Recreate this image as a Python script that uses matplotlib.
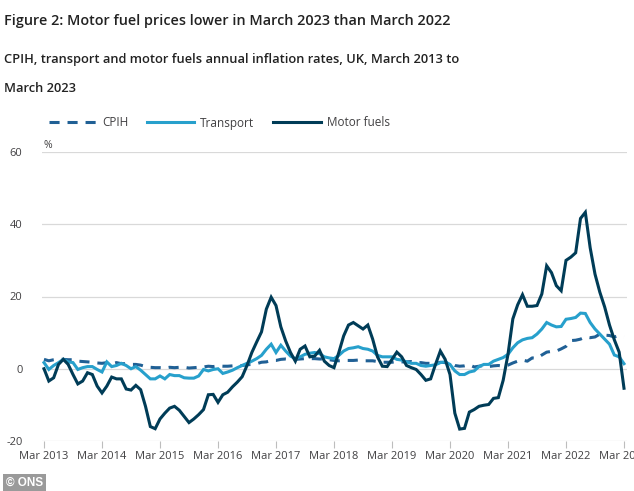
import matplotlib
matplotlib.use("Agg")
import matplotlib.pyplot as plt
import numpy as np
import pandas as pd

# ---- data (annual inflation rate, %, monthly Mar 2013 - Mar 2023) ----
cpih = [2.6, 2.2, 2.5, 2.7, 2.6, 2.5, 2.5, 2.1, 2.0, 1.9,
        1.8, 1.6, 1.5, 1.7, 1.4, 1.7, 1.4, 1.4, 1.2, 1.2, 1.0, 0.6,
        0.4, 0.3, 0.3, 0.2, 0.4, 0.3, 0.4, 0.4, 0.2, 0.3, 0.4, 0.5,
        0.7, 0.6, 0.8, 0.7, 0.7, 0.8, 0.9, 0.9, 1.1, 1.2, 1.4, 1.8,
        1.9, 2.3, 2.3, 2.6, 2.7, 2.6, 2.6, 2.7, 2.8, 2.8, 2.8, 2.7,
        2.7, 2.5, 2.3, 2.2, 2.3, 2.3, 2.3, 2.4, 2.2, 2.2, 2.2, 2.0,
        1.8, 1.8, 1.8, 2.0, 1.9, 1.9, 2.0, 1.7, 1.7, 1.5, 1.5, 1.4,
        1.8, 1.7, 1.5, 0.9, 0.7, 0.8, 1.1, 0.5, 0.7, 0.9, 0.6, 0.8,
        0.9, 0.7, 1.0, 1.6, 2.1, 2.4, 2.1, 3.0, 2.9, 3.8, 4.6, 4.8,
        4.9, 5.5, 6.2, 7.8, 7.9, 8.2, 8.8, 8.6, 8.8, 9.6, 9.3, 9.2,
        8.8, 9.2, 8.9]

transport = [1.7, -0.2, 0.9, 1.7, 2.6, 1.9, 1.7, -0.2, 0.3, 0.6,
             0.6, -0.2, -0.9, 1.9, 0.6, 0.9, 1.5, 0.9, 0.0, 0.6, -0.4, -1.6,
             -2.8, -2.8, -2.0, -2.8, -1.6, -1.9, -1.9, -2.5, -2.6, -2.6, -2.0, -0.2,
             -0.6, -0.2, 0.0, -1.3, -0.9, -0.4, 0.3, 0.9, 1.5, 2.1, 2.8, 3.7,
             5.4, 6.8, 4.5, 6.5, 4.9, 3.5, 2.8, 3.3, 4.0, 4.3, 4.5, 4.2,
             3.3, 3.0, 2.8, 3.7, 4.9, 5.6, 5.8, 6.1, 5.6, 5.4, 4.9, 3.7,
             3.3, 3.3, 3.3, 2.6, 2.4, 1.9, 1.5, 1.5, 0.9, 0.7, 0.9, 1.1,
             1.7, 1.9, 1.2, -0.6, -1.6, -1.6, -0.9, -0.6, 0.6, 1.2, 1.2, 2.1,
             2.6, 3.1, 4.0, 5.8, 7.2, 8.0, 8.4, 8.6, 9.6, 11.0, 12.8, 12.1,
             11.6, 11.7, 13.7, 13.9, 14.2, 15.4, 15.3, 12.8, 11.0, 9.6, 8.2, 6.8,
             3.8, 3.3, 1.4]

motor_fuels = [0.0, -3.4, -2.5, 1.2, 2.6, 1.2, -1.6, -4.2, -3.4, -1.1,
               -1.6, -4.8, -6.7, -4.8, -2.3, -2.8, -2.8, -5.6, -5.9, -4.6, -5.8, -10.4,
               -16.0, -16.6, -13.9, -12.3, -10.9, -10.4, -11.5, -13.2, -14.9, -13.9, -12.7, -11.3,
               -7.2, -7.1, -9.3, -7.2, -6.5, -5.0, -3.7, -2.2, 0.9, 4.5, 7.4, 10.2,
               16.5, 19.8, 17.5, 11.6, 7.7, 4.5, 2.1, 5.4, 6.3, 3.3, 3.5, 5.1,
               2.1, 0.9, 0.3, 4.5, 9.1, 12.1, 12.8, 11.9, 11.0, 12.1, 8.2, 3.3,
               0.7, 0.6, 2.6, 4.6, 3.3, 0.9, 0.3, -0.2, -1.6, -3.2, -2.8, 1.2,
               4.9, 2.6, -1.6, -12.3, -16.7, -16.5, -12.0, -11.3, -10.4, -10.1, -9.9, -8.2,
               -8.0, -3.2, 4.0, 13.8, 17.7, 20.5, 17.3, 17.3, 17.5, 20.7, 28.5, 26.6,
               23.0, 21.6, 30.0, 30.9, 32.1, 41.6, 43.3, 33.5, 26.2, 21.2, 17.1, 12.1,
               8.0, 4.6, -5.4]

series_names = ["CPIH", "Transport", "Motor fuels"]
tick_labels = ["Mar 2013", "Mar 2014", "Mar 2015", "Mar 2016", "Mar 2017", "Mar 2018",
               "Mar 2019", "Mar 2020", "Mar 2021", "Mar 2022", "Mar 2023"]
y_ticks = [-20, 0, 20, 40, 60]

dates = pd.date_range("2013-03-01", periods=len(cpih), freq="MS")
x = np.arange(len(dates))
tick_pos = [i for i, d in enumerate(dates) if d.month == 3]

# ---- style ----
FONT = ["Open Sans", "DejaVu Sans"]
plt.rcParams["font.family"] = FONT
GREY = "#414042"
C_CPIH = "#206095"
C_TRANS = "#27a0cc"
C_FUEL = "#003c57"

W, H = 634, 491
fig = plt.figure(figsize=(W / 100, H / 100), dpi=100)
fig.patch.set_facecolor("white")

ax = fig.add_axes([42 / W, 1 - 441 / H, 585 / W, 289 / H])
ppm = 580 / 120.0
ax.set_xlim(-2 / ppm, 583 / ppm)
ax.set_ylim(-20, 60)

lw = 2.2
l1, = ax.plot(x, cpih, color=C_CPIH, lw=lw, linestyle=(0, (3.3, 2.6)),
              label=series_names[0], zorder=3)
l2, = ax.plot(x, transport, color=C_TRANS, lw=lw, label=series_names[1],
              zorder=4, solid_joinstyle="miter")
l3, = ax.plot(x, motor_fuels, color=C_FUEL, lw=lw, label=series_names[2],
              zorder=5, solid_joinstyle="miter")

for s in ["top", "right", "left", "bottom"]:
    ax.spines[s].set_visible(False)
ax.set_yticks(y_ticks)
ax.set_yticklabels([str(v) for v in y_ticks])
ax.yaxis.grid(True, color="#d9d9d9", lw=0.9)
ax.set_axisbelow(True)
ax.tick_params(axis="y", length=0, pad=14, labelsize=8, labelcolor=GREY)
ax.set_xticks(tick_pos)
ax.set_xticklabels(tick_labels)
ax.tick_params(axis="x", length=5, width=0.8, color="#bdbdbd", pad=2,
               labelsize=8, labelcolor=GREY)
for lab in ax.get_yticklabels():
    lab.set_horizontalalignment("right")

fig.text(43 / W, 1 - 146 / H, "%", fontsize=7.5, color=GREY, va="center")

# legend
leg = fig.legend(handles=[l1, l2, l3], loc="center left",
                 bbox_to_anchor=(49 / W, 1 - 123 / H), ncol=3, frameon=False,
                 fontsize=8.5, handlelength=4.0, handletextpad=0.5,
                 columnspacing=1.6, borderpad=0, borderaxespad=0)
for t in leg.get_texts():
    t.set_color(GREY)

# titles
fig.text(4 / W, 1 - 24.5 / H, "Figure 2: Motor fuel prices lower in March 2023 than March 2022",
         fontsize=10.4, fontweight="semibold", color="#222222", va="baseline")
fig.text(4 / W, 1 - 62.5 / H,
         "CPIH, transport and motor fuels annual inflation rates, UK, March 2013 to",
         fontsize=9.3, fontweight="semibold", color="#222222", va="baseline")
fig.text(4 / W, 1 - 91.5 / H, "March 2023",
         fontsize=9.3, fontweight="semibold", color="#222222", va="baseline")

# copyright badge
fig.text(6 / W, 1 - 483 / H, "© ONS", fontsize=8.5, fontweight="bold",
         family=["Liberation Sans", "DejaVu Sans"], color="white", va="center",
         bbox=dict(boxstyle="square,pad=0.25", facecolor="#9a9a9a", edgecolor="none"))

fig.savefig("out.png", dpi=100, facecolor="white")
